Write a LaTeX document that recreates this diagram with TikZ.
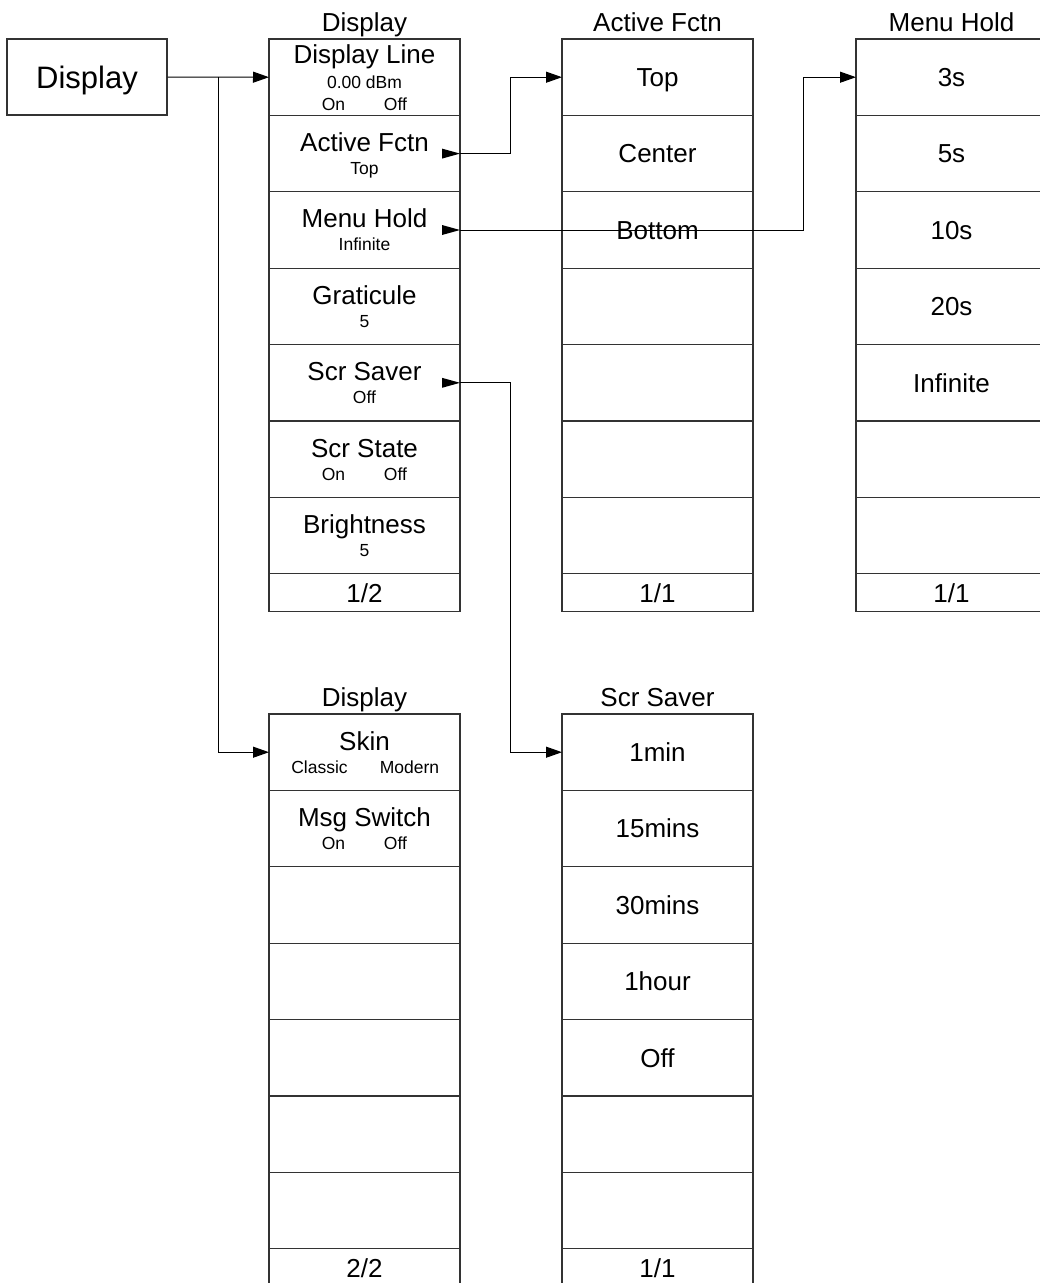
\documentclass[tikz,border=0pt]{standalone}
\usepackage{fontspec}
\setmainfont{Liberation Sans}
\usetikzlibrary{arrows.meta}
\tikzset{
  cell/.style={draw=black!80, line width=1.1pt, minimum width=191pt, minimum height=76.4pt, inner sep=0pt, outer sep=0pt, anchor=north west},
  footcell/.style={cell, minimum height=38pt},
  maintxt/.style={font=\fontsize{26}{26}\selectfont, anchor=base, inner sep=0pt},
  subtxt/.style={font=\fontsize{17.5}{17.5}\selectfont, anchor=base, inner sep=0pt},
  conn/.style={line width=1pt, -{Triangle[length=16pt,width=11pt]}},
}
\newcommand\menucol[3]{%
  \foreach \i in {1,...,7} {\node[cell] (#1-\i) at (#2, {#3+(\i-1)*76.4}) {};}
  \node[footcell] (#1-f) at (#2, {#3+7*76.4}) {};
}
\newcommand\cellone[2]{\node[maintxt, yshift=-9.3pt] at (#1.center) {#2};}
\newcommand\celltwo[3]{\node[maintxt, yshift=-36pt] at (#1.north) {#2};
  \node[subtxt, yshift=-59pt] at (#1.north) {#3};}
\newcommand\cellonoff[4]{\node[maintxt, yshift=-36pt] at (#1.north) {#2};
  \node[subtxt, yshift=-59pt, xshift=-#4pt] at (#1.north) {#3};}
\newcommand\markL[1]{\fill (#1.east) -- ++(-18,-5) -- ++(0,10) -- cycle;}
\begin{document}
\begin{tikzpicture}[x=1pt, y=-1pt]
\useasboundingbox (0,0) rectangle (1040,1283);
% root
\node[draw=black!80, line width=1.1pt, minimum width=160pt, minimum height=76pt, text depth=0pt,
      font=\fontsize{31}{31}\selectfont, inner sep=0pt] (root) at (87,77) {Display};
% columns
\menucol{ca}{269}{39}
\menucol{cb}{562}{39}
\menucol{cc}{856}{39}
\menucol{cd}{269}{714}
\menucol{ce}{562}{714}
% headers
\node[maintxt, yshift=8pt] (ha) at (ca-1.north) {Display};
\node[maintxt, yshift=8pt] (hb) at (cb-1.north) {Active Fctn};
\node[maintxt, yshift=8pt] (hc) at (cc-1.north) {Menu Hold};
\node[maintxt, yshift=8pt] (hd) at (cd-1.north) {Display};
\node[maintxt, yshift=8pt] (he) at (ce-1.north) {Scr Saver};
% column a
\node[maintxt, yshift=-24pt] at (ca-1.north) {Display Line};
\node[subtxt, yshift=-49pt] at (ca-1.north) {0.00 dBm};
\node[subtxt, yshift=-71pt, xshift=-31pt] at (ca-1.north) {On};
\node[subtxt, yshift=-71pt, xshift=31pt] at (ca-1.north) {Off};
\celltwo{ca-2}{Active Fctn}{Top}
\celltwo{ca-3}{Menu Hold}{Infinite}
\celltwo{ca-4}{Graticule}{5}
\celltwo{ca-5}{Scr Saver}{Off}
\node[maintxt, yshift=-36pt] at (ca-6.north) {Scr State};
\node[subtxt, yshift=-59pt, xshift=-31pt] at (ca-6.north) {On};
\node[subtxt, yshift=-59pt, xshift=31pt] at (ca-6.north) {Off};
\celltwo{ca-7}{Brightness}{5}
\cellone{ca-f}{1/2}
% column b
\cellone{cb-1}{Top}
\cellone{cb-2}{Center}
\cellone{cb-3}{Bottom}
\cellone{cb-f}{1/1}
% column c
\cellone{cc-1}{3s}
\cellone{cc-2}{5s}
\cellone{cc-3}{10s}
\cellone{cc-4}{20s}
\cellone{cc-5}{Infinite}
\cellone{cc-f}{1/1}
% column d
\node[maintxt, yshift=-36pt] at (cd-1.north) {Skin};
\node[subtxt, yshift=-59pt, xshift=-45pt] at (cd-1.north) {Classic};
\node[subtxt, yshift=-59pt, xshift=45pt] at (cd-1.north) {Modern};
\node[maintxt, yshift=-36pt] at (cd-2.north) {Msg Switch};
\node[subtxt, yshift=-59pt, xshift=-31pt] at (cd-2.north) {On};
\node[subtxt, yshift=-59pt, xshift=31pt] at (cd-2.north) {Off};
\cellone{cd-f}{2/2}
% column e
\cellone{ce-1}{1min}
\cellone{ce-2}{15mins}
\cellone{ce-3}{30mins}
\cellone{ce-4}{1hour}
\cellone{ce-5}{Off}
\cellone{ce-f}{1/1}
% connectors
\coordinate (j1) at (218,77);
\draw[conn] (root.east) -- (ca-1.west);
\draw[conn] (j1) |- (cd-1.west);
\markL{ca-2}
\draw[conn] (ca-2.east) -- ++(50,0) |- (cb-1.west);
\markL{ca-3}
\draw[conn] (ca-3.east) -- ++(343,0) |- (cc-1.west);
\markL{ca-5}
\draw[conn] (ca-5.east) -- ++(50,0) |- (ce-1.west);
\end{tikzpicture}
\end{document}
